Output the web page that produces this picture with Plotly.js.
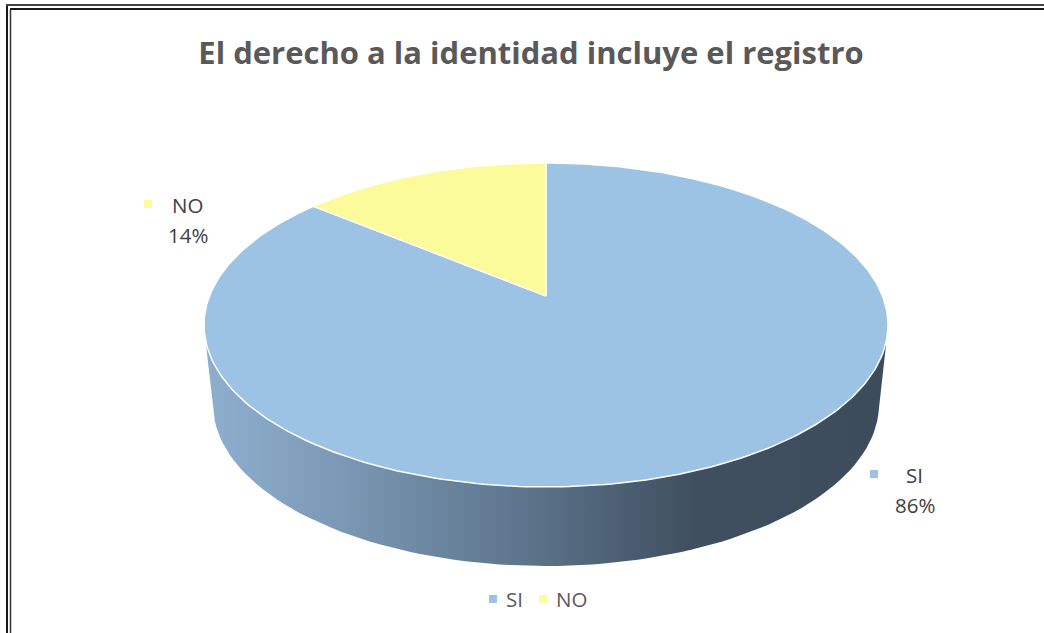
<!DOCTYPE html>
<html>
<head>
<meta charset="utf-8">
<script src="https://cdn.plot.ly/plotly-3.0.1.min.js"></script>
<style>html,body{margin:0;padding:0;background:#fff}#c{width:1044px;height:633px}</style>
</head>
<body>
<div id="c"></div>
<script>
var categories = ['SI', 'NO'];
var values = [86, 14];
var chartTitle = 'El derecho a la identidad incluye el registro';

var total = values[0] + values[1];
var FONT = '"Open Sans", "Noto Sans", sans-serif';
var BLUE = '#9CC2E4', YELLOW = '#FBFB9C';
var cx = 546, apexY = 296, tilt = 0.179, rimK = -103.8, halfW = 336.5;
var noShare = values[1] / total;

function project(turn) {
  var a = turn * 2 * Math.PI, u = Math.sin(a), v = Math.cos(a), d = 1 + tilt * v;
  return [cx + halfW * u / d, (apexY + rimK * v) / d];
}
function slice(from, to) {
  var xs = [cx], ys = [apexY], n = Math.max(8, Math.round((to - from) * 360));
  for (var i = 0; i <= n; i++) {
    var p = project(from + (to - from) * i / n);
    xs.push(p[0]); ys.push(p[1]);
  }
  xs.push(cx); ys.push(apexY);
  return {x: xs, y: ys};
}
// side wall, hidden behind the top face except for its lower half
var wx = [206], wy = [345];
for (var t = 180; t >= 0; t -= 2) {
  var r = t * Math.PI / 180;
  wx.push(cx + 333 * Math.cos(r));
  wy.push(404 + 162 * Math.sin(r));
}
wx.push(886, cx); wy.push(345, 325);

var si = slice(0, 1 - noShare);
var no = slice(1 - noShare, 1);
var traces = [
  {type: 'scatter', mode: 'lines', x: wx, y: wy, fill: 'toself', line: {width: 0},
   fillgradient: {type: 'horizontal', colorscale: [[0, '#8EAECE'], [0.1, '#86A5C3'], [0.45, '#5F778F'], [0.72, '#3F4F5F'], [1, '#3D4C5B']]},
   hoverinfo: 'skip', showlegend: false},
  {type: 'scatter', mode: 'lines', name: categories[0], x: si.x, y: si.y, fill: 'toself', fillcolor: BLUE,
   line: {color: '#FFFFFF', width: 1.5}, showlegend: false},
  {type: 'scatter', mode: 'lines', name: categories[1], x: no.x, y: no.y, fill: 'toself', fillcolor: YELLOW,
   line: {color: '#FFFFFF', width: 1.2}, showlegend: false},
  {type: 'scatter', mode: 'markers', x: [874, 148, 493, 543], y: [474, 204, 599, 599],
   marker: {symbol: 'square', size: 8, color: [BLUE, YELLOW, BLUE, YELLOW]},
   hoverinfo: 'skip', showlegend: false}
];

function note(text, x, y, size, color) {
  return {text: text, x: x, y: y, xref: 'x', yref: 'y', showarrow: false,
          xanchor: 'center', yanchor: 'middle', font: {family: FONT, size: size, color: color}};
}
var annotations = [
  note(categories[1], 187, 205, 20.5, '#404040'),
  note(values[1] + '%', 188, 235, 20.5, '#404040'),
  note(categories[0], 914, 475, 20.5, '#404040'),
  note(values[0] + '%', 915, 505, 20.5, '#404040'),
  note(categories[0], 514, 599, 20.5, '#595959'),
  note(categories[1], 571, 599, 20.5, '#595959')
];

function frameLine(x0, y0, x1, y1, w, c) {
  return {type: 'line', xref: 'x', yref: 'y', x0: x0, y0: y0, x1: x1, y1: y1, line: {color: c, width: w}};
}
var layout = {
  width: 1044, height: 633,
  margin: {l: 0, r: 0, t: 0, b: 0},
  paper_bgcolor: '#FFFFFF', plot_bgcolor: '#FFFFFF',
  title: {text: '<b>' + chartTitle + '</b>', x: 531 / 1044, xanchor: 'center', y: 1 - 53 / 633, yanchor: 'middle',
          font: {family: FONT, size: 31, color: '#595959'}},
  xaxis: {range: [0, 1044], visible: false, fixedrange: true},
  yaxis: {range: [633, 0], visible: false, fixedrange: true},
  showlegend: false,
  annotations: annotations,
  shapes: [
    frameLine(7, 5, 7, 633, 2, '#1a1a1a'),
    frameLine(10.5, 9, 10.5, 633, 1.5, '#333333'),
    frameLine(6, 5, 1044, 5, 2, '#444444'),
    frameLine(10, 9, 1044, 9, 2, '#1a1a1a')
  ]
};
Plotly.newPlot('c', traces, layout, {displayModeBar: false, staticPlot: true});
</script>
</body>
</html>
